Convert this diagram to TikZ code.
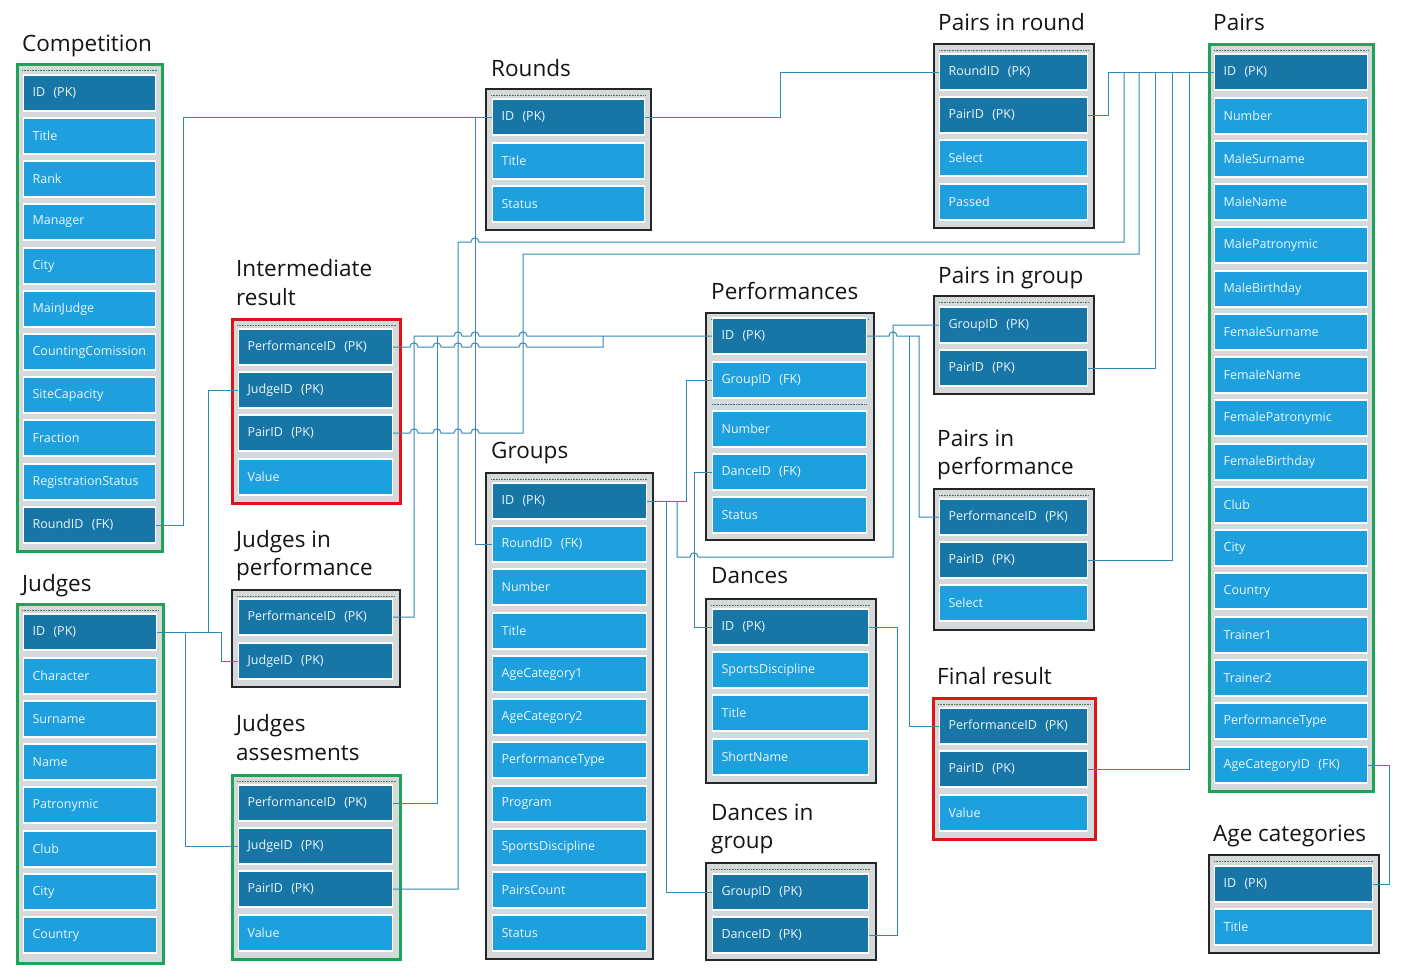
\documentclass[tikz,border=0pt]{standalone}
\usepackage{fontspec}
\setmainfont{Open Sans}
\definecolor{darkrow}{RGB}{24,118,166}
\definecolor{lightrow}{RGB}{30,160,222}
\definecolor{boxgray}{RGB}{214,217,219}
\definecolor{tgreen}{RGB}{31,163,87}
\definecolor{tred}{RGB}{222,20,24}
\definecolor{linkblue}{RGB}{50,138,180}
\definecolor{fieldtext}{RGB}{236,246,251}
\definecolor{titleblack}{RGB}{20,20,20}
\definecolor{dotgreen}{RGB}{80,115,80}
\newcommand\fieldfont{\fontsize{12.5}{15}\selectfont}
\newcommand\titlefont{\fontsize{22.5}{29}\selectfont}
\newcommand\topdots[1]{\draw[dotline] ([xshift=6pt,yshift=-7pt]#1.north west) -- ([xshift=-6pt,yshift=-7pt]#1.north east);}
\begin{document}
\begin{tikzpicture}[x=1pt,y=-1pt,
  conn/.style={draw=linkblue, line width=1pt},
  hop/.style 2 args={insert path={-- (#1-4,#2) .. controls (#1-4,#2-5.5) and (#1+4,#2-5.5) .. (#1+4,#2)}},
  tbl/.style={rectangle, fill=boxgray, draw=black!85, line width=1.6pt, anchor=north west, inner sep=0pt},
  greentbl/.style={tbl, draw=tgreen, line width=3pt},
  redtbl/.style={tbl, draw=tred, line width=3pt},
  dotline/.style={dotgreen, densely dotted, line width=0.6pt},
  sepline/.style={darkrow, densely dotted, line width=0.6pt},
  fld/.style={rectangle, draw=white, line width=1.2pt, minimum height=36pt, inner xsep=9pt, inner ysep=0pt, anchor=west, font=\fieldfont, text=fieldtext, align=left},
  keyrow/.style={fld, fill=darkrow, text width=#1},
  datarow/.style={fld, fill=lightrow, text width=#1},
  ttl/.style={anchor=base west, font=\titlefont, text=titleblack, inner sep=0pt}
]
\fill[white] (0,0) rectangle (1408,977);
\useasboundingbox (0,0) rectangle (1408,977);

% ---------- table frames ----------
\node[greentbl, minimum width=145pt, minimum height=487pt] (compBox) at (16,63) {};
\node[greentbl, minimum width=146pt, minimum height=359pt] (judBox) at (16,603) {};
\node[tbl, minimum width=165pt, minimum height=141pt] (rndBox) at (485,88) {};
\node[redtbl, minimum width=168pt, minimum height=184pt] (irBox) at (231,318) {};
\node[tbl, minimum width=168pt, minimum height=97pt] (jpBox) at (231,589) {};
\node[greentbl, minimum width=168pt, minimum height=184pt] (jaBox) at (231,774) {};
\node[tbl, minimum width=167pt, minimum height=486pt] (grpBox) at (485,472) {};
\node[tbl, minimum width=168pt, minimum height=227pt] (perfBox) at (705,312) {};
\node[tbl, minimum width=170pt, minimum height=184pt] (danBox) at (705,598) {};
\node[tbl, minimum width=170pt, minimum height=97pt] (dgBox) at (705,862) {};
\node[tbl, minimum width=160pt, minimum height=184pt] (prBox) at (933,43) {};
\node[tbl, minimum width=160pt, minimum height=98pt] (pgBox) at (933,295) {};
\node[tbl, minimum width=160pt, minimum height=141pt] (ppBox) at (933,488) {};
\node[redtbl, minimum width=162pt, minimum height=141pt] (frBox) at (932,697) {};
\node[greentbl, minimum width=164pt, minimum height=747pt] (pairBox) at (1208,43) {};
\node[tbl, minimum width=170pt, minimum height=98pt] (acBox) at (1208,854) {};
\foreach \b in {compBox,judBox,rndBox,irBox,jpBox,jaBox,grpBox,perfBox,danBox,dgBox,prBox,pgBox,ppBox,frBox,pairBox,acBox}{\topdots{\b}}

% ---------- titles ----------
\node[ttl] (compT) at (22,51) {Competition};
\node[ttl] (judT) at (22,591) {Judges};
\node[ttl] (rndT) at (491,76) {Rounds};
\node[ttl] (irT1) at (236,276) {Intermediate};
\node[ttl] (irT2) at (236,305) {result};
\node[ttl] (jpT1) at (236,547) {Judges in};
\node[ttl] (jpT2) at (236,575) {performance};
\node[ttl] (jaT1) at (236,731) {Judges};
\node[ttl] (jaT2) at (236,760) {assesments};
\node[ttl] (grpT) at (491,458) {Groups};
\node[ttl] (perfT) at (711,299) {Performances};
\node[ttl] (danT) at (711,583) {Dances};
\node[ttl] (dgT1) at (711,820) {Dances in};
\node[ttl] (dgT2) at (711,848) {group};
\node[ttl] (prT) at (938,30) {Pairs in round};
\node[ttl] (pgT) at (938,283) {Pairs in group};
\node[ttl] (ppT1) at (937,446) {Pairs in};
\node[ttl] (ppT2) at (937,474) {performance};
\node[ttl] (frT) at (937,684) {Final result};
\node[ttl] (pairT) at (1213,30) {Pairs};
\node[ttl] (acT) at (1213,841) {Age categories};

% ---------- Competition ----------
\node[keyrow=114pt] (comp1) at (23,93) {ID~ (PK)};
\node[datarow=114pt] (comp2) at (23,136) {Title};
\node[datarow=114pt] (comp3) at (23,179) {Rank};
\node[datarow=114pt] (comp4) at (23,222) {Manager};
\node[datarow=114pt] (comp5) at (23,266) {City};
\node[datarow=114pt] (comp6) at (23,309) {MainJudge};
\node[datarow=114pt] (comp7) at (23,352) {CountingComission};
\node[datarow=114pt] (comp8) at (23,395) {SiteCapacity};
\node[datarow=114pt] (comp9) at (23,438) {Fraction};
\node[datarow=114pt] (comp10) at (23,482) {RegistrationStatus};
\node[keyrow=114pt] (comp11) at (23,525) {RoundID~ (FK)};

% ---------- Judges ----------
\node[keyrow=115pt] (jud1) at (23,632) {ID~ (PK)};
\node[datarow=115pt] (jud2) at (23,676) {Character};
\node[datarow=115pt] (jud3) at (23,719) {Surname};
\node[datarow=115pt] (jud4) at (23,762) {Name};
\node[datarow=115pt] (jud5) at (23,805) {Patronymic};
\node[datarow=115pt] (jud6) at (23,849) {Club};
\node[datarow=115pt] (jud7) at (23,892) {City};
\node[datarow=115pt] (jud8) at (23,935) {Country};

% ---------- Rounds ----------
\node[keyrow=134pt] (rnd1) at (492,117) {ID~ (PK)};
\node[datarow=134pt] (rnd2) at (492,161) {Title};
\node[datarow=134pt] (rnd3) at (492,204) {Status};

% ---------- Intermediate result ----------
\node[keyrow=136pt] (ir1) at (238,347) {PerformanceID~ (PK)};
\node[keyrow=136pt] (ir2) at (238,390) {JudgeID~ (PK)};
\node[keyrow=136pt] (ir3) at (238,433) {PairID~ (PK)};
\node[datarow=136pt] (ir4) at (238,477) {Value};

% ---------- Judges in performance ----------
\node[keyrow=136pt] (jp1) at (238,617) {PerformanceID~ (PK)};
\node[keyrow=136pt] (jp2) at (238,661) {JudgeID~ (PK)};

% ---------- Judges assesments ----------
\node[keyrow=136pt] (ja1) at (238,803) {PerformanceID~ (PK)};
\node[keyrow=136pt] (ja2) at (238,846) {JudgeID~ (PK)};
\node[keyrow=136pt] (ja3) at (238,889) {PairID~ (PK)};
\node[datarow=136pt] (ja4) at (238,933) {Value};

% ---------- Groups ----------
\node[keyrow=136pt] (grp1) at (492,501) {ID~ (PK)};
\node[datarow=136pt] (grp2) at (492,544) {RoundID~ (FK)};
\node[datarow=136pt] (grp3) at (492,587) {Number};
\node[datarow=136pt] (grp4) at (492,631) {Title};
\node[datarow=136pt] (grp5) at (492,674) {AgeCategory1};
\node[datarow=136pt] (grp6) at (492,717) {AgeCategory2};
\node[datarow=136pt] (grp7) at (492,760) {PerformanceType};
\node[datarow=136pt] (grp8) at (492,804) {Program};
\node[datarow=136pt] (grp9) at (492,847) {SportsDiscipline};
\node[datarow=136pt] (grp10) at (492,890) {PairsCount};
\node[datarow=136pt] (grp11) at (492,933) {Status};

% ---------- Performances ----------
\node[keyrow=136pt] (perf1) at (712,336) {ID~ (PK)};
\node[datarow=136pt] (perf2) at (712,380) {GroupID~ (FK)};
\draw[sepline] ([yshift=-6pt]perf2.south west) -- ([yshift=-6pt]perf2.south east);
\node[datarow=136pt] (perf3) at (712,429) {Number};
\node[datarow=136pt] (perf4) at (712,472) {DanceID~ (FK)};
\node[datarow=136pt] (perf5) at (712,515) {Status};

% ---------- Dances ----------
\node[keyrow=138pt] (dan1) at (712,627) {ID~ (PK)};
\node[datarow=138pt] (dan2) at (712,670) {SportsDiscipline};
\node[datarow=138pt] (dan3) at (712,713) {Title};
\node[datarow=138pt] (dan4) at (712,757) {ShortName};

% ---------- Dances in group ----------
\node[keyrow=138pt] (dg1) at (712,892) {GroupID~ (PK)};
\node[keyrow=138pt] (dg2) at (712,935) {DanceID~ (PK)};

% ---------- Pairs in round ----------
\node[keyrow=130pt] (pr1) at (939,72) {RoundID~ (PK)};
\node[keyrow=130pt] (pr2) at (939,115) {PairID~ (PK)};
\node[datarow=130pt] (pr3) at (939,158) {Select};
\node[datarow=130pt] (pr4) at (939,202) {Passed};

% ---------- Pairs in group ----------
\node[keyrow=130pt] (pg1) at (939,325) {GroupID~ (PK)};
\node[keyrow=130pt] (pg2) at (939,368) {PairID~ (PK)};

% ---------- Pairs in performance ----------
\node[keyrow=130pt] (pp1) at (939,517) {PerformanceID~ (PK)};
\node[keyrow=130pt] (pp2) at (939,560) {PairID~ (PK)};
\node[datarow=130pt] (pp3) at (939,603) {Select};

% ---------- Final result ----------
\node[keyrow=130pt] (fr1) at (939,726) {PerformanceID~ (PK)};
\node[keyrow=130pt] (fr2) at (939,769) {PairID~ (PK)};
\node[datarow=130pt] (fr3) at (939,813) {Value};

% ---------- Pairs ----------
\node[keyrow=135pt] (pair1) at (1214,72) {ID~ (PK)};
\node[datarow=135pt] (pair2) at (1214,116) {Number};
\node[datarow=135pt] (pair3) at (1214,159) {MaleSurname};
\node[datarow=135pt] (pair4) at (1214,202) {MaleName};
\node[datarow=135pt] (pair5) at (1214,245) {MalePatronymic};
\node[datarow=135pt] (pair6) at (1214,289) {MaleBirthday};
\node[datarow=135pt] (pair7) at (1214,332) {FemaleSurname};
\node[datarow=135pt] (pair8) at (1214,375) {FemaleName};
\node[datarow=135pt] (pair9) at (1214,418) {FemalePatronymic};
\node[datarow=135pt] (pair10) at (1214,462) {FemaleBirthday};
\node[datarow=135pt] (pair11) at (1214,505) {Club};
\node[datarow=135pt] (pair12) at (1214,548) {City};
\node[datarow=135pt] (pair13) at (1214,591) {Country};
\node[datarow=135pt] (pair14) at (1214,635) {Trainer1};
\node[datarow=135pt] (pair15) at (1214,678) {Trainer2};
\node[datarow=135pt] (pair16) at (1214,721) {PerformanceType};
\node[datarow=135pt] (pair17) at (1214,765) {AgeCategoryID~ (FK)};

% ---------- Age categories ----------
\node[keyrow=140pt] (ac1) at (1214,884) {ID~ (PK)};
\node[datarow=140pt] (ac2) at (1214,927) {Title};

% ---------- relations ----------
% Competition.RoundID -> Rounds.ID
\draw[conn] (comp11.east) -- (183,525) |- (rnd1.west);
% Rounds.ID -> Groups.RoundID, Pairs in round.RoundID
\draw[conn] (475,117) |- (grp2.west);
\draw[conn] (rnd1.east) -- (780,117) |- (pr1.west);
% Pairs.ID fan-out
\draw[conn] (pair1.west) -- (1108,72) |- (pr2.east);
\draw[conn] (ja3.east) -- (458,889) -- (458,242) [hop={475}{242}] -- (1124,242) -- (1124,72);
\draw[conn] (ir3.east) [hop={414}{433}] [hop={437}{433}] [hop={458}{433}] [hop={475}{433}] -- (523,433) -- (523,254) -- (1139,254) -- (1139,72);
\draw[conn] (pg2.east) -| (1155,72);
\draw[conn] (pp2.east) -| (1172,72);
\draw[conn] (fr2.east) -| (1189,72);
% Performances.ID fan-out
\draw[conn] (jp1.east) -- (414,617) -- (414,336) [hop={458}{336}] [hop={475}{336}] [hop={523}{336}] -- (perf1.west);
\draw[conn] (ja1.east) -- (437,803) -- (437,336);
\draw[conn] (ir1.east) [hop={414}{347}] [hop={437}{347}] [hop={458}{347}] [hop={475}{347}] [hop={523}{347}] -- (603,347) -- (603,336);
\draw[conn] (perf1.east) [hop={893}{336}] -- (919,336) |- (pp1.west);
\draw[conn] (909,336) |- (fr1.west);
% Groups.ID fan-out
\draw[conn] (grp1.east) -- (686,501) |- (perf2.west);
\draw[conn] (666,501) |- (dg1.west);
\draw[conn] (677,501) -- (677,557) [hop={694}{557}] -- (893,557) |- (pg1.west);
% Dances.ID
\draw[conn] (perf4.west) -- (694,472) |- (dan1.west);
\draw[conn] (dan1.east) -- (897,627) |- (dg2.east);
% Judges.ID fan-out
\draw[conn] (jud1.east) -- (221,632) |- (jp2.west);
\draw[conn] (208,632) |- (ir2.west);
\draw[conn] (185,632) |- (ja2.west);
% Age categories.ID
\draw[conn] (pair17.east) -- (1389,765) |- (ac1.east);
\end{tikzpicture}
\end{document}
